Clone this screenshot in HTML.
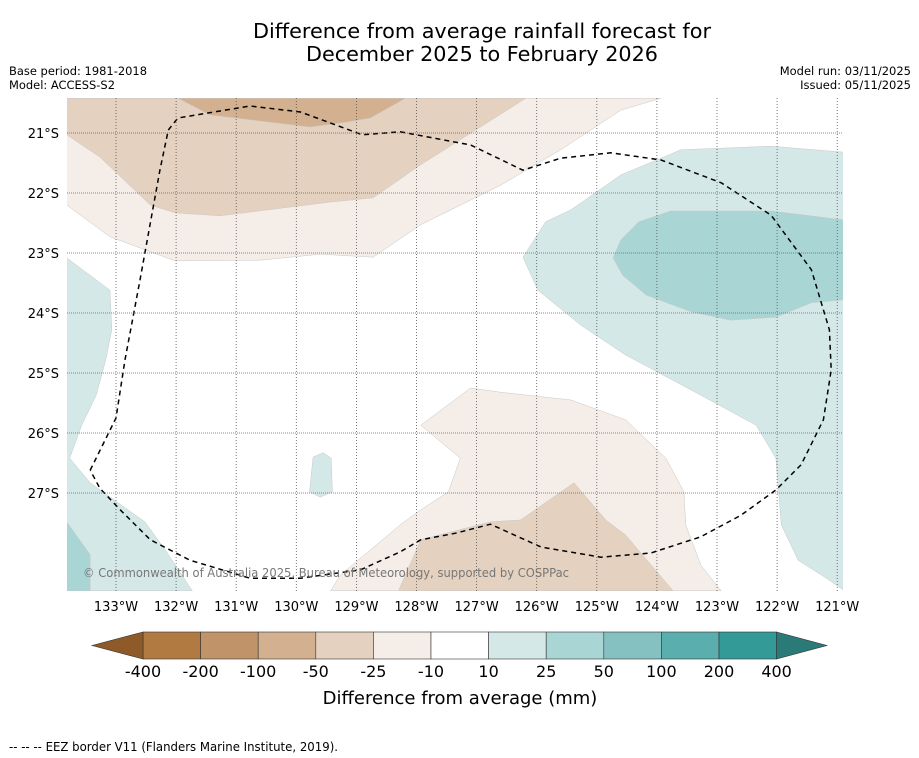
<!DOCTYPE html>
<html><head><meta charset="utf-8"><style>
body{margin:0;background:#fff;font-family:"Liberation Sans","DejaVu Sans",sans-serif;}
svg{display:block}
</style></head><body>
<svg id="c" width="919" height="758" xmlns="http://www.w3.org/2000/svg">
<rect width="919" height="758" fill="#fff"/>
<text x="482" y="38" text-anchor="middle" font-size="20.5" textLength="458" lengthAdjust="spacingAndGlyphs" font-family="DejaVu Sans,sans-serif">Difference from average rainfall forecast for</text>
<text x="482" y="61" text-anchor="middle" font-size="20.5" textLength="352" lengthAdjust="spacingAndGlyphs" font-family="DejaVu Sans,sans-serif">December 2025 to February 2026</text>
<text x="9" y="75" font-size="11.5" textLength="138" lengthAdjust="spacingAndGlyphs" font-family="DejaVu Sans,sans-serif">Base period: 1981-2018</text>
<text x="9" y="89" font-size="11.5" textLength="106" lengthAdjust="spacingAndGlyphs" font-family="DejaVu Sans,sans-serif">Model: ACCESS-S2</text>
<text x="911" y="75" text-anchor="end" font-size="11.5" font-family="DejaVu Sans,sans-serif">Model run: 03/11/2025</text>
<text x="911" y="89" text-anchor="end" font-size="11.5" font-family="DejaVu Sans,sans-serif">Issued: 05/11/2025</text>
<g id="map"></g>
<g id="cbar"></g>
<text x="460" y="704" text-anchor="middle" font-size="18" font-family="DejaVu Sans,sans-serif">Difference from average (mm)</text>
<text x="9" y="751" font-size="12" textLength="329" lengthAdjust="spacingAndGlyphs" font-family="DejaVu Sans,sans-serif">--  --  -- EEZ border V11 (Flanders Marine Institute, 2019).</text>
</svg>
<script>
const lonTicks=[-133,-132,-131,-130,-129,-128,-127,-126,-125,-124,-123,-122,-121];
const latTicks=[-21,-22,-23,-24,-25,-26,-27];
const levels=["-400","-200","-100","-50","-25","-10","10","25","50","100","200","400"];
const colors=["#b07a40","#c09468","#d3b08f","#e4d1bf","#f5ede7","#ffffff","#d4e8e7","#aad5d5","#84c1c0","#5aaead","#339a98"];
const extLow="#8e5b28", extHigh="#2a7a78";
const polyBand25=[[-133.82,-20.42],[-133.82,-22.2],[-133.1,-22.73],[-132.02,-23.13],[-130.6,-23.12],[-129.6,-23.02],[-128.72,-23.07],[-127.93,-22.53],[-126.6,-21.87],[-125.6,-21.28],[-124.6,-20.62],[-123.93,-20.42]];
const polyBand50=[[-133.82,-20.42],[-133.82,-21.03],[-133.27,-21.4],[-132.43,-22.2],[-132.02,-22.33],[-131.27,-22.38],[-129.43,-22.15],[-128.72,-22.08],[-127.93,-21.53],[-126.18,-20.42]];
const polyBand100=[[-131.97,-20.42],[-131.43,-20.7],[-129.77,-20.9],[-129.18,-20.82],[-128.77,-20.75],[-128.18,-20.42]];
const polyLR25=[[-127.93,-25.87],[-127.27,-26.42],[-127.47,-26.98],[-127.93,-27.28],[-128.27,-27.53],[-129.27,-28.37],[-129.43,-28.63],[-122.93,-28.63],[-123.27,-28.2],[-123.52,-27.53],[-123.55,-26.98],[-123.85,-26.42],[-124.52,-25.78],[-125.43,-25.45],[-126.6,-25.32],[-127.1,-25.25]];
const polyLR50=[[-128.3,-28.63],[-127.93,-27.78],[-126.77,-27.48],[-126.27,-27.45],[-125.38,-26.83],[-124.85,-27.45],[-124.52,-27.7],[-123.73,-28.63]];
const polyR10=[[-120.88,-21.32],[-122.1,-21.22],[-123.6,-21.28],[-124.6,-21.7],[-125.43,-22.28],[-125.85,-22.48],[-126.23,-23.07],[-125.98,-23.62],[-125.27,-24.2],[-124.52,-24.7],[-123.27,-25.37],[-122.35,-25.87],[-122.02,-26.42],[-121.93,-27.53],[-121.65,-28.12],[-121.18,-28.42],[-120.88,-28.63]];
const polyR25=[[-120.88,-22.45],[-122.1,-22.3],[-123.77,-22.3],[-124.3,-22.48],[-124.6,-22.78],[-124.73,-23.08],[-124.57,-23.37],[-124.18,-23.7],[-123.43,-23.98],[-122.77,-24.12],[-122.02,-24.07],[-121.43,-23.83],[-120.88,-23.78]];
const polyL10=[[-133.82,-23.08],[-133.1,-23.62],[-133.07,-24.28],[-133.17,-24.78],[-133.33,-25.37],[-133.57,-25.87],[-133.77,-26.42],[-133.43,-26.83],[-132.52,-27.48],[-132.18,-27.95],[-131.73,-28.63],[-133.82,-28.63]];
const polyL25=[[-133.82,-27.48],[-133.43,-28.03],[-133.43,-28.63],[-133.82,-28.63]];
const polyIsl=[[-129.72,-26.4],[-129.55,-26.33],[-129.42,-26.42],[-129.4,-26.98],[-129.6,-27.07],[-129.78,-26.98]];
const polys=[[polyBand25,4],[polyBand50,3],[polyBand100,2],[polyLR25,4],[polyLR50,3],[polyR10,6],[polyR25,7],[polyL10,6],[polyL25,7],[polyIsl,6]];
const eez=[[-133.43,-26.62],[-133,-25.75],[-132.85,-24.78],[-132.6,-23.45],[-132.27,-21.62],[-132.13,-20.95],[-131.97,-20.75],[-130.77,-20.55],[-129.93,-20.65],[-128.9,-21.03],[-128.27,-20.98],[-127.1,-21.2],[-126.23,-21.62],[-125.6,-21.42],[-124.77,-21.33],[-123.93,-21.45],[-122.93,-21.83],[-122.1,-22.37],[-121.43,-23.28],[-121.13,-24.28],[-121.1,-24.95],[-121.23,-25.78],[-121.6,-26.53],[-122.02,-26.95],[-122.6,-27.37],[-123.27,-27.73],[-124.1,-28],[-124.93,-28.07],[-125.93,-27.9],[-126.77,-27.52],[-127.35,-27.67],[-127.93,-27.78],[-128.27,-27.98],[-128.93,-28.28],[-129.93,-28.42],[-130.77,-28.42],[-131.77,-28.12],[-132.43,-27.78],[-132.93,-27.28],[-133.27,-26.92],[-133.43,-26.62]];
const NS="http://www.w3.org/2000/svg";
const X0=67,X1=843,Y0=98,Y1=591;
function xs(lon){return 116+(lon+133)*60.1;}
function ys(lat){return 133+(-21-lat)*60;}
function mk(t,a,p){const e=document.createElementNS(NS,t);for(const k in a)e.setAttribute(k,a[k]);p.appendChild(e);return e;}
const map=document.getElementById('map');
const cp=mk('clipPath',{id:'mc'},map);mk('rect',{x:X0,y:Y0,width:X1-X0,height:Y1-Y0},cp);
const g=mk('g',{'clip-path':'url(#mc)'},map);
polys.forEach(([pts,ci],i)=>{
 const p=mk('polygon',{points:pts.map(q=>xs(q[0]).toFixed(1)+','+ys(q[1]).toFixed(1)).join(' '),fill:colors[ci],stroke:'#c8c8c8','stroke-width':0.5},g);
 
 
});
lonTicks.forEach(l=>{
 const x=xs(l);
 const ln=mk('line',{x1:x,x2:x,y1:Y0,y2:Y1,stroke:'#555','stroke-width':0.8,'stroke-dasharray':'1,2'},map);
 
 
 const t=mk('text',{x:x,y:611,'text-anchor':'middle','font-size':13,'font-family':'DejaVu Sans,sans-serif'},map);
 t.textContent=Math.abs(l)+'°W';
 
 
});
latTicks.forEach(l=>{
 const y=ys(l);
 const ln=mk('line',{x1:X0,x2:X1,y1:y,y2:y,stroke:'#666','stroke-width':0.8,'stroke-dasharray':'1,1'},map);
 
 
 const t=mk('text',{x:59,y:y+5,'text-anchor':'end','font-size':13,'font-family':'DejaVu Sans,sans-serif'},map);
 t.textContent=Math.abs(l)+'°S';
 
 
});
const ez=mk('polyline',{points:eez.map(q=>xs(q[0]).toFixed(1)+','+ys(q[1]).toFixed(1)).join(' '),fill:'none',stroke:'#000','stroke-width':1.5,'stroke-dasharray':'5,4','stroke-linejoin':'round'},g);


const cr=mk('text',{x:83,y:577,'font-size':12,fill:'#777','font-family':'DejaVu Sans,sans-serif',textLength:486,lengthAdjust:'spacingAndGlyphs'},map);
cr.textContent='© Commonwealth of Australia 2025, Bureau of Meteorology, supported by COSPPac';


const cb=document.getElementById('cbar');
const B0=143,BW=57.6,CY=632,CH=27;
colors.forEach((c,i)=>{
 const r=mk('rect',{x:B0+i*BW,y:CY,width:BW,height:CH,fill:c,stroke:'#333','stroke-width':0.6},cb);
 
 
});
const BE=B0+colors.length*BW;
const tl=mk('polygon',{points:`${B0},${CY} 92,${CY+CH/2} ${B0},${CY+CH}`,fill:extLow,stroke:'#333','stroke-width':0.6},cb);


const tr=mk('polygon',{points:`${BE},${CY} 827,${CY+CH/2} ${BE},${CY+CH}`,fill:extHigh,stroke:'#333','stroke-width':0.6},cb);


levels.forEach((v,i)=>{
 const t=mk('text',{x:B0+i*BW,y:677,'text-anchor':'middle','font-size':16,'font-family':'DejaVu Sans,sans-serif'},cb);
 t.textContent=v;
 
 
});
</script>
</body></html>
